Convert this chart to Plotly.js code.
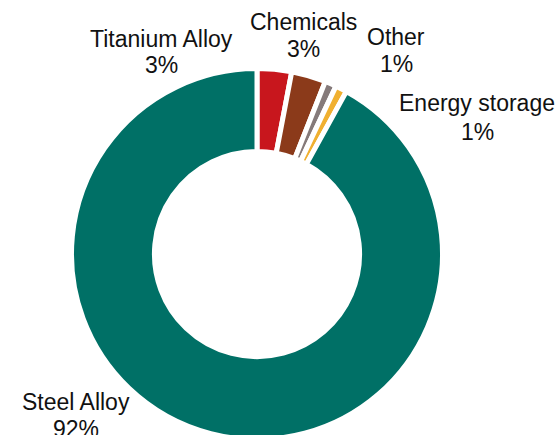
<!DOCTYPE html>
<html>
<head>
<meta charset="utf-8">
<script src="https://cdn.plot.ly/plotly-3.0.1.min.js"></script>
<style>
  html, body { margin: 0; padding: 0; overflow: hidden; background: #fff; }
  #chart { width: 560px; height: 500px; }
</style>
</head>
<body>
<div id="chart"></div>
<script>
// Share of use by application (percent)
const categories = ['Titanium Alloy', 'Chemicals', 'Other', 'Energy storage', 'Steel Alloy'];
const shares = [3, 3, 1, 1, 92];
const sliceColors = ['#c8161d', '#8b3a1a', '#857a7a', '#f0b030', '#007066'];

// Label anchor points in pixels: [centre x, name line middle y, value line middle y]
const labelPos = [
  [161, 39, 65],
  [303, 22, 49],
  [396, 37, 64],
  [477, 103, 132],
  [76, 402, 429]
];

const W = 560, H = 500;

const trace = {
  type: 'pie',
  labels: categories,
  values: shares,
  sort: false,
  direction: 'clockwise',
  rotation: 0,
  hole: 0.553,
  textinfo: 'none',
  hoverinfo: 'label+percent',
  showlegend: false,
  marker: { colors: sliceColors, line: { color: '#ffffff', width: 5 } },
  domain: { x: [71.5 / W, 442.5 / W], y: [(H - 439.5) / H, (H - 68.5) / H] }
};

const font = { family: 'Liberation Sans, Arial, sans-serif', size: 23, color: '#111111' };
const annotations = [];
categories.forEach((name, i) => {
  const [cx, y1, y2] = labelPos[i];
  annotations.push({
    xref: 'paper', yref: 'paper', x: cx / W, y: (H - y1) / H,
    xanchor: 'center', yanchor: 'middle', showarrow: false,
    text: name, font: font
  });
  annotations.push({
    xref: 'paper', yref: 'paper', x: cx / W, y: (H - y2) / H,
    xanchor: 'center', yanchor: 'middle', showarrow: false,
    text: shares[i] + '%', font: font
  });
});

const layout = {
  width: W, height: H,
  margin: { l: 0, r: 0, t: 0, b: 0 },
  paper_bgcolor: '#ffffff',
  annotations: annotations
};

Plotly.newPlot('chart', [trace], layout, { displayModeBar: false, staticPlot: true });
</script>
</body>
</html>
